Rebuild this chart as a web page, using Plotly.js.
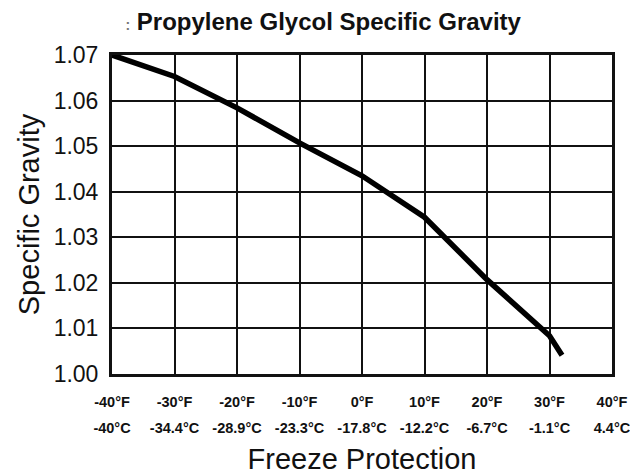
<!DOCTYPE html>
<html>
<head>
<meta charset="utf-8">
<script src="https://cdn.plot.ly/plotly-3.0.1.min.js"></script>
<style>html,body{margin:0;padding:0;background:#fff;}#chart{width:630px;height:475px;}</style>
</head>
<body>
<div id="chart"></div>
<script>
// Freeze protection (°F) and specific gravity
const tempF = [-40, -30, -20, -10, 0, 10, 20, 30, 32];
const specificGravity = [1.070, 1.0653, 1.0584, 1.0507, 1.0435, 1.0344, 1.0207, 1.0084, 1.0041];

const tickValsF = [-40, -30, -20, -10, 0, 10, 20, 30, 40];
const tickTextF = ['-40°F', '-30°F', '-20°F', '-10°F', '0°F', '10°F', '20°F', '30°F', '40°F'];
const tickTextC = ['-40°C', '-34.4°C', '-28.9°C', '-23.3°C', '-17.8°C', '-12.2°C', '-6.7°C', '-1.1°C', '4.4°C'];
const yTickVals = [1.00, 1.01, 1.02, 1.03, 1.04, 1.05, 1.06, 1.07];

const FONT = 'Liberation Sans, Arial, sans-serif';

const traces = [{
  x: tempF,
  y: specificGravity,
  type: 'scatter',
  mode: 'lines',
  line: {color: '#000', width: 5.5},
  hoverinfo: 'skip',
  cliponaxis: false
}, {
  x: tempF,
  y: specificGravity,
  xaxis: 'x2',
  type: 'scatter',
  mode: 'none',
  hoverinfo: 'skip',
  showlegend: false
}];

const layout = {
  width: 630,
  height: 475,
  margin: {l: 112, r: 18, t: 55, b: 101},
  paper_bgcolor: '#fff',
  plot_bgcolor: '#fff',
  showlegend: false,
  font: {family: FONT, color: '#111'},
  title: {
    text: '<span style="color:#777;font-size:14px">:</span> Propylene Glycol Specific Gravity',
    font: {family: FONT, size: 24, color: '#111', weight: 'bold'},
    x: 0.513, xanchor: 'center', y: 0.955, yanchor: 'middle'
  },
  xaxis: {
    range: [-40, 40],
    tickmode: 'array',
    tickvals: tickValsF,
    ticktext: tickTextF,
    tickfont: {family: FONT, size: 14.5, color: '#111', weight: 'bold'},
    ticks: '',
    ticklabelstandoff: 13,
    ticklabeloverflow: 'allow',
    showgrid: true,
    gridcolor: '#111',
    gridwidth: 2,
    zeroline: false,
    showline: true,
    linecolor: '#111',
    linewidth: 3,
    mirror: true,
    fixedrange: true,
    title: {text: 'Freeze Protection', font: {family: FONT, size: 29, color: '#111'}, standoff: 42}
  },
  xaxis2: {
    range: [-40, 40],
    overlaying: 'x',
    anchor: 'y',
    side: 'bottom',
    tickmode: 'array',
    tickvals: tickValsF,
    ticktext: tickTextC,
    tickfont: {family: FONT, size: 14.5, color: '#111', weight: 'bold'},
    ticks: '',
    ticklabelstandoff: 43,
    ticklabeloverflow: 'allow',
    showgrid: false,
    zeroline: false,
    showline: false,
    fixedrange: true
  },
  yaxis: {
    range: [1.00, 1.07],
    tickmode: 'array',
    tickvals: yTickVals,
    ticktext: yTickVals.map(v => v.toFixed(2)),
    tickfont: {family: FONT, size: 23, color: '#111'},
    ticks: '',
    ticklabelstandoff: 6,
    showgrid: true,
    gridcolor: '#111',
    gridwidth: 2,
    zeroline: false,
    showline: true,
    linecolor: '#111',
    linewidth: 3,
    mirror: true,
    fixedrange: true,
    title: {text: 'Specific Gravity', font: {family: FONT, size: 29, color: '#111'}, standoff: 6}
  }
};

Plotly.newPlot('chart', traces, layout, {displayModeBar: false, staticPlot: true});
</script>
</body>
</html>
